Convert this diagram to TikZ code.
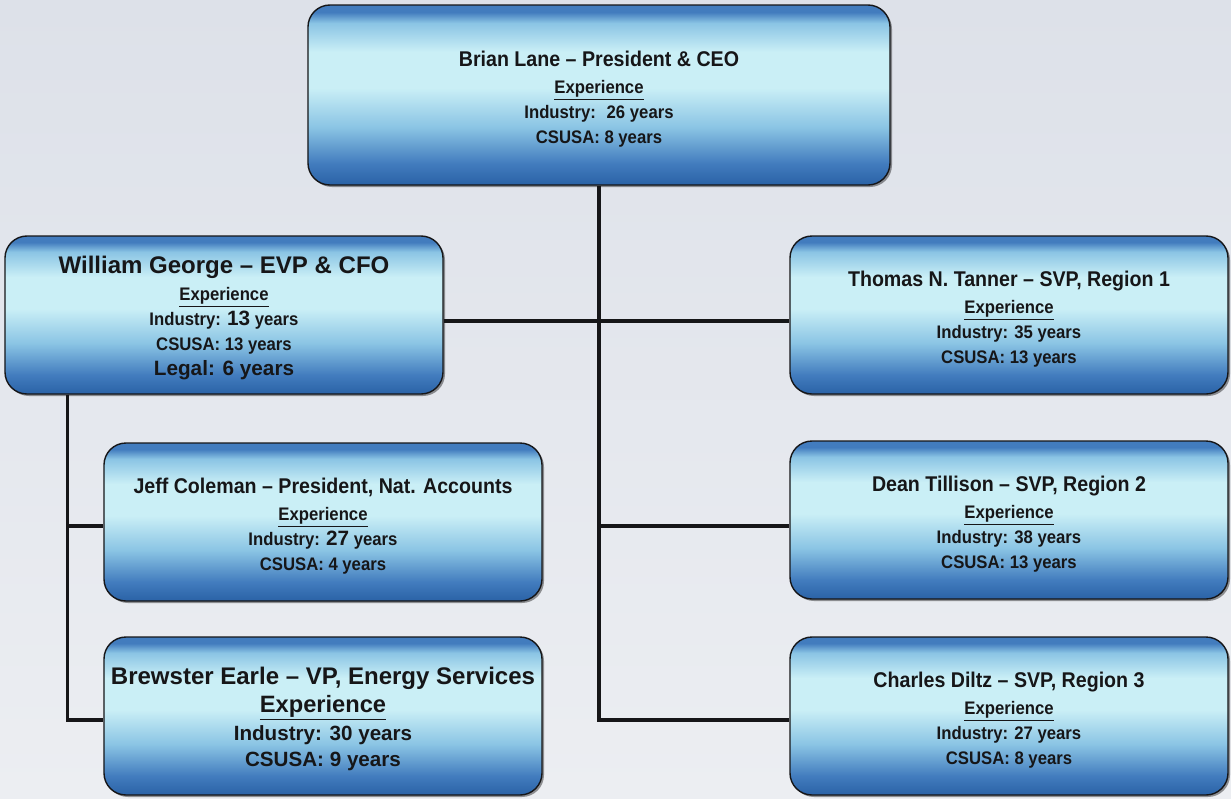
\documentclass[tikz,border=0pt]{standalone}
\usepackage{fontspec}
\setmainfont{Liberation Sans}
\newfontfamily\narrowfont{Liberation Sans}[FakeStretch=0.92]
\usetikzlibrary{shadows}
\definecolor{PageTop}{RGB}{221,225,233}
\definecolor{PageBottom}{RGB}{236,238,242}
\definecolor{BoxEdge}{RGB}{66,124,190}
\definecolor{BoxDeep}{RGB}{42,98,166}
\definecolor{BoxMid}{RGB}{138,196,228}
\definecolor{BoxLight}{RGB}{202,239,246}
\definecolor{InkDark}{RGB}{22,22,24}
\pgfdeclareverticalshading{OrgBox}{100bp}{color(0bp)=(BoxDeep); color(25bp)=(BoxDeep);
  color(31bp)=(BoxEdge); color(41bp)=(BoxMid); color(52bp)=(BoxLight); color(62bp)=(BoxLight);
  color(70bp)=(BoxMid); color(73bp)=(BoxEdge); color(75bp)=(BoxEdge); color(100bp)=(BoxEdge)}
\newcommand\headline[1]{\rule{0pt}{20pt}{\fontsize{18.2}{22}\selectfont #1}\\[1.7pt]}
\newcommand\widehead[1]{\rule{0pt}{20pt}{\normalfont\bfseries\fontsize{20.5}{24}\selectfont #1}\\[1.7pt]}
\newcommand\widebf{\normalfont\bfseries}

\begin{document}
\begin{tikzpicture}[
    x=0.03cm, y=-0.03cm,
    orgbox/.style={draw=InkDark, line width=1.2pt, rounded corners=0.66cm, shading=OrgBox,
                   minimum width=13.14cm, minimum height=4.74cm, align=center, text=InkDark,
                   font=\narrowfont\bfseries\fontsize{15.5}{21.3}\selectfont,
                   drop shadow={shadow xshift=0.06cm, shadow yshift=-0.06cm, opacity=0.4, fill=black}},
    topbox/.style={orgbox, minimum width=17.46cm, minimum height=5.4cm},
    wire/.style={draw=InkDark, line width=2.6pt}
]
    \useasboundingbox (0,0) rectangle (1231,798);
    \fill[top color=PageTop, bottom color=PageBottom] (0,0) rectangle (1231,798);

    \node[topbox] (ceo) at (599,95)
        {\headline{Brian Lane – President \& CEO}\underline{Experience}\\Industry:~ 26 years\\CSUSA: 8 years};
    \node[orgbox] (cfo) at (224,315)
        {\widehead{William George – EVP \& CFO}\underline{Experience}\\
         Industry: {\widebf\fontsize{17.7}{21}\selectfont 13} years\\CSUSA: 13 years\\
         {\widebf\fontsize{17.7}{21}\selectfont Legal: 6 years}};
    \node[orgbox] (rgn1) at (1009,315)
        {\headline{Thomas N. Tanner – SVP, Region 1}\underline{Experience}\\Industry: 35 years\\CSUSA: 13 years};
    \node[orgbox] (natacct) at (323,522)
        {\headline{Jeff Coleman – President, Nat. Accounts}\underline{Experience}\\
         Industry: {\widebf\fontsize{17.7}{21}\selectfont 27} years\\CSUSA: 4 years};
    \node[orgbox] (rgn2) at (1009,520)
        {\headline{Dean Tillison – SVP, Region 2}\underline{Experience}\\Industry: 38 years\\CSUSA: 13 years};
    \node[orgbox, font=\bfseries\fontsize{17.6}{22.6}\selectfont] (energy) at (323,716)
        {\widehead{Brewster Earle – VP, Energy Services}
         {\fontsize{20.2}{24}\selectfont\underline{Experience}}\\[0.8pt]Industry: 30 years\\CSUSA: 9 years};
    \node[orgbox] (rgn3) at (1009,716)
        {\headline{Charles Diltz – SVP, Region 3}\underline{Experience}\\Industry: 27 years\\CSUSA: 8 years};

    \coordinate (cfofoot) at ([xshift=1.89cm]cfo.south west);
    \draw[wire] ([yshift=-0.18cm]cfo.east) -- ([yshift=-0.18cm]rgn1.west);
    \draw[wire] (ceo.south) |- ([yshift=-0.18cm]rgn2.west);
    \draw[wire] (ceo.south) |- ([yshift=-0.12cm]rgn3.west);
    \draw[wire] (cfofoot) |- ([yshift=-0.12cm]natacct.west);
    \draw[wire] (cfofoot) |- ([yshift=-0.12cm]energy.west);
\end{tikzpicture}
\end{document}
